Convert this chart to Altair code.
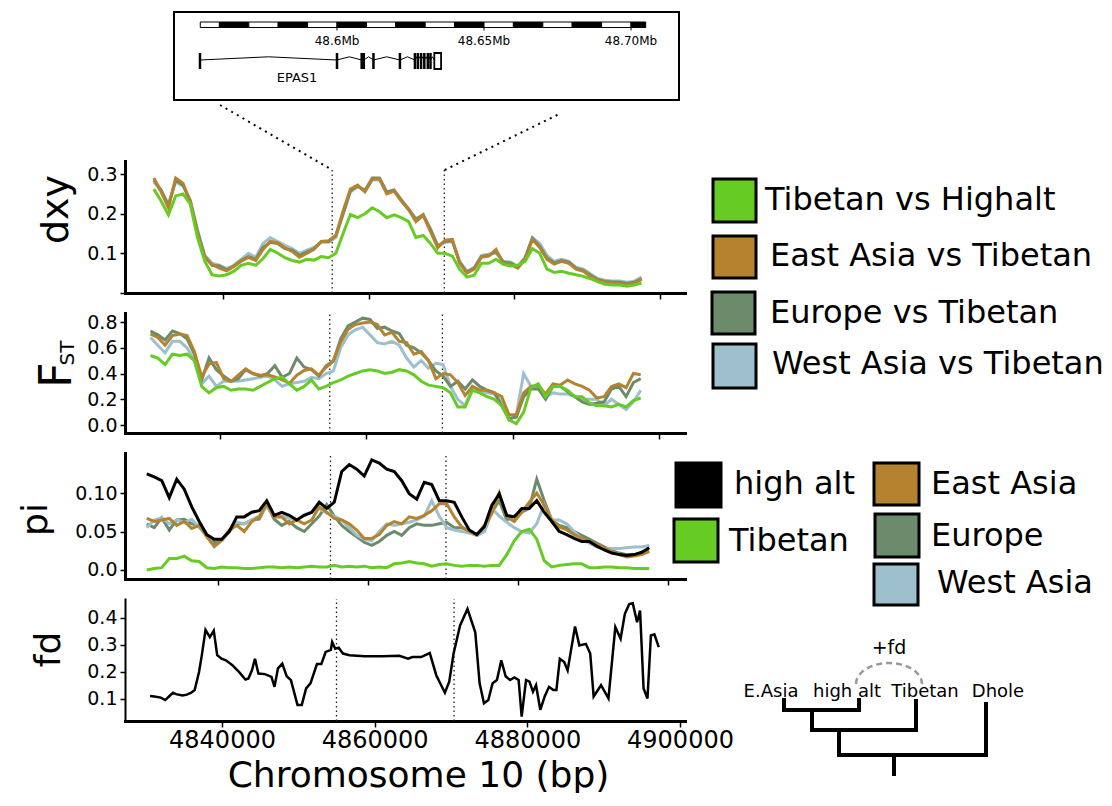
import altair as alt
import pandas as pd
import numpy as np

FONT = "DejaVu Sans"
C_TIB_HIGH = "#66cc24"
C_EASIA = "#b5832f"
C_EUROPE = "#6b8b6b"
C_WASIA = "#9dc0cc"
C_HIGH = "#000000"

# ---------------- data ----------------
# window centres (kb) used by dxy, FST and pi
win_kb = [4830.5, 4831.5, 4832.5, 4833.5, 4834.5, 4835.5, 4836.5, 4837.5, 4838.5, 4839.5,
          4840.5, 4841.5, 4842.5, 4843.5, 4844.5, 4845.5, 4846.5, 4847.5, 4848.5, 4849.5,
          4850.5, 4851.5, 4852.5, 4853.5, 4854.5, 4855.5, 4856.5, 4857.5, 4858.5, 4859.5,
          4860.5, 4861.5, 4862.5, 4863.5, 4864.5, 4865.5, 4866.5, 4867.5, 4868.5, 4869.5,
          4870.5, 4871.5, 4872.5, 4873.5, 4874.5, 4875.5, 4876.5, 4877.5, 4878.5, 4879.5,
          4880.5, 4881.5, 4882.5, 4883.5, 4884.5, 4885.5, 4886.5, 4887.5, 4888.5, 4889.5,
          4890.5, 4891.5, 4892.5, 4893.5, 4894.5, 4895.5, 4896.5, 4897.5]
win_pos = [k * 1000 for k in win_kb]

dxy_tib_high = [0.262, 0.232, 0.197, 0.245, 0.25, 0.225, 0.14, 0.08, 0.046, 0.043,
                0.046, 0.055, 0.07, 0.075, 0.07, 0.087, 0.11, 0.101, 0.089, 0.082,
                0.078, 0.085, 0.083, 0.092, 0.089, 0.1, 0.15, 0.198, 0.19, 0.2,
                0.215, 0.205, 0.19, 0.197, 0.19, 0.18, 0.14, 0.145, 0.125, 0.1,
                0.1, 0.093, 0.06, 0.04, 0.045, 0.075, 0.075, 0.085, 0.072, 0.068,
                0.07, 0.08, 0.112, 0.1, 0.06, 0.052, 0.055, 0.05, 0.046, 0.042,
                0.036, 0.028, 0.022, 0.02, 0.02, 0.017, 0.02, 0.025]
dxy_easia = [0.29, 0.255, 0.215, 0.29, 0.277, 0.23, 0.15, 0.09, 0.072, 0.063,
             0.056, 0.067, 0.08, 0.09, 0.082, 0.11, 0.13, 0.127, 0.114, 0.105,
             0.09, 0.1, 0.11, 0.13, 0.132, 0.145, 0.207, 0.262, 0.272, 0.255,
             0.287, 0.288, 0.25, 0.257, 0.232, 0.21, 0.18, 0.196, 0.155, 0.114,
             0.133, 0.135, 0.075, 0.05, 0.06, 0.09, 0.093, 0.11, 0.075, 0.072,
             0.063, 0.085, 0.135, 0.115, 0.085, 0.073, 0.08, 0.075, 0.06, 0.055,
             0.042, 0.032, 0.027, 0.025, 0.024, 0.021, 0.025, 0.034]
dxy_europe = [0.285, 0.26, 0.22, 0.285, 0.272, 0.232, 0.155, 0.092, 0.07, 0.068,
              0.058, 0.068, 0.082, 0.092, 0.085, 0.115, 0.128, 0.125, 0.112, 0.108,
              0.095, 0.103, 0.112, 0.13, 0.13, 0.145, 0.2, 0.258, 0.27, 0.258,
              0.29, 0.29, 0.255, 0.26, 0.235, 0.212, 0.185, 0.198, 0.16, 0.118,
              0.13, 0.132, 0.078, 0.052, 0.062, 0.092, 0.095, 0.105, 0.078, 0.075,
              0.065, 0.088, 0.138, 0.118, 0.088, 0.076, 0.082, 0.078, 0.062, 0.057,
              0.045, 0.034, 0.029, 0.028, 0.027, 0.024, 0.027, 0.036]
dxy_wasia = [0.28, 0.258, 0.225, 0.28, 0.27, 0.235, 0.16, 0.095, 0.075, 0.07,
             0.062, 0.07, 0.085, 0.1, 0.09, 0.125, 0.14, 0.13, 0.12, 0.112,
             0.1, 0.108, 0.115, 0.128, 0.128, 0.14, 0.2, 0.255, 0.268, 0.26,
             0.285, 0.285, 0.252, 0.258, 0.232, 0.21, 0.188, 0.195, 0.162, 0.12,
             0.128, 0.13, 0.08, 0.055, 0.065, 0.095, 0.098, 0.1, 0.08, 0.078,
             0.068, 0.09, 0.14, 0.125, 0.095, 0.08, 0.085, 0.08, 0.065, 0.06,
             0.048, 0.036, 0.032, 0.03, 0.03, 0.027, 0.03, 0.04]

fst_tib_high = [0.54, 0.52, 0.47, 0.55, 0.54, 0.55, 0.50, 0.30, 0.25, 0.29,
                0.30, 0.27, 0.28, 0.28, 0.27, 0.30, 0.33, 0.36, 0.37, 0.32,
                0.27, 0.30, 0.35, 0.28, 0.30, 0.33, 0.35, 0.38, 0.40, 0.42,
                0.43, 0.42, 0.40, 0.41, 0.43, 0.42, 0.39, 0.34, 0.31, 0.30,
                0.29, 0.25, 0.14, 0.14, 0.27, 0.25, 0.22, 0.20, 0.15, 0.04,
                0.01, 0.10, 0.29, 0.32, 0.22, 0.30, 0.30, 0.27, 0.22, 0.22,
                0.17, 0.15, 0.15, 0.14, 0.16, 0.14, 0.19, 0.21]
fst_easia = [0.707, 0.68, 0.62, 0.695, 0.707, 0.695, 0.57, 0.374, 0.473, 0.485,
             0.36, 0.337, 0.387, 0.436, 0.40, 0.387, 0.39, 0.374, 0.35, 0.325,
             0.387, 0.424, 0.436, 0.387, 0.448, 0.497, 0.645, 0.744, 0.78, 0.793,
             0.80, 0.78, 0.70, 0.72, 0.65, 0.64, 0.55, 0.57, 0.50, 0.36,
             0.40, 0.39, 0.33, 0.23, 0.30, 0.27, 0.27, 0.25, 0.22, 0.08,
             0.08, 0.25, 0.30, 0.31, 0.24, 0.32, 0.31, 0.35, 0.32, 0.30,
             0.27, 0.21, 0.22, 0.30, 0.32, 0.29, 0.40, 0.39]
fst_europe = [0.73, 0.70, 0.66, 0.73, 0.71, 0.67, 0.55, 0.35, 0.52, 0.43,
              0.38, 0.34, 0.36, 0.43, 0.40, 0.38, 0.40, 0.46, 0.37, 0.40,
              0.52, 0.45, 0.43, 0.38, 0.46, 0.50, 0.67, 0.77, 0.80, 0.83,
              0.82, 0.75, 0.76, 0.73, 0.71, 0.62, 0.60, 0.56, 0.50, 0.42,
              0.38, 0.30, 0.34, 0.28, 0.35, 0.30, 0.27, 0.25, 0.15, 0.05,
              0.06, 0.22, 0.28, 0.28, 0.20, 0.30, 0.30, 0.26, 0.22, 0.18,
              0.16, 0.17, 0.18, 0.28, 0.30, 0.22, 0.33, 0.36]
fst_wasia = [0.68, 0.62, 0.56, 0.65, 0.65, 0.60, 0.50, 0.32, 0.38, 0.30,
             0.34, 0.34, 0.34, 0.35, 0.36, 0.37, 0.38, 0.35, 0.30, 0.32,
             0.33, 0.34, 0.37, 0.36, 0.40, 0.42, 0.60, 0.70, 0.74, 0.76,
             0.70, 0.64, 0.63, 0.65, 0.62, 0.52, 0.45, 0.50, 0.44, 0.48,
             0.47, 0.30, 0.20, 0.15, 0.30, 0.27, 0.25, 0.24, 0.18, 0.04,
             0.08, 0.40, 0.30, 0.30, 0.22, 0.25, 0.24, 0.24, 0.22, 0.20,
             0.20, 0.20, 0.15, 0.20, 0.16, 0.12, 0.18, 0.27]

pi_high = [0.125, 0.121, 0.116, 0.094, 0.118, 0.105, 0.082, 0.063, 0.046, 0.040,
           0.040, 0.050, 0.069, 0.069, 0.075, 0.077, 0.090, 0.071, 0.075, 0.071,
           0.065, 0.071, 0.075, 0.088, 0.080, 0.088, 0.128, 0.137, 0.131, 0.122,
           0.143, 0.139, 0.131, 0.128, 0.116, 0.099, 0.092, 0.114, 0.111, 0.090,
           0.090, 0.088, 0.069, 0.052, 0.046, 0.056, 0.084, 0.099, 0.071, 0.069,
           0.080, 0.080, 0.090, 0.075, 0.063, 0.050, 0.046, 0.041, 0.037, 0.037,
           0.031, 0.026, 0.022, 0.020, 0.019, 0.020, 0.023, 0.029]
pi_tibetan = [0.0, 0.002, 0.003, 0.015, 0.015, 0.018, 0.012, 0.011, 0.003, 0.002,
              0.004, 0.003, 0.003, 0.002, 0.002, 0.003, 0.004, 0.004, 0.003, 0.004,
              0.003, 0.004, 0.005, 0.004, 0.004, 0.006, 0.004, 0.005, 0.004, 0.005,
              0.003, 0.004, 0.003, 0.008, 0.009, 0.011, 0.009, 0.008, 0.005, 0.007,
              0.008, 0.006, 0.005, 0.006, 0.006, 0.005, 0.006, 0.006, 0.020, 0.038,
              0.050, 0.053, 0.040, 0.012, 0.004, 0.006, 0.007, 0.008, 0.008, 0.003,
              0.003, 0.004, 0.004, 0.003, 0.003, 0.002, 0.002, 0.002]
pi_easia = [0.067, 0.063, 0.065, 0.067, 0.058, 0.063, 0.054, 0.058, 0.043, 0.031,
            0.039, 0.052, 0.058, 0.050, 0.063, 0.069, 0.086, 0.069, 0.069, 0.060,
            0.065, 0.060, 0.065, 0.082, 0.075, 0.067, 0.065, 0.060, 0.052, 0.041,
            0.041, 0.046, 0.058, 0.063, 0.060, 0.069, 0.067, 0.071, 0.077, 0.086,
            0.086, 0.069, 0.056, 0.050, 0.046, 0.058, 0.073, 0.100, 0.069, 0.063,
            0.075, 0.088, 0.100, 0.084, 0.065, 0.056, 0.052, 0.046, 0.041, 0.037,
            0.033, 0.029, 0.024, 0.020, 0.017, 0.018, 0.020, 0.024]
pi_europe = [0.060, 0.055, 0.068, 0.052, 0.065, 0.066, 0.060, 0.058, 0.045, 0.035,
             0.038, 0.050, 0.060, 0.060, 0.065, 0.066, 0.085, 0.066, 0.058, 0.063,
             0.055, 0.050, 0.060, 0.070, 0.085, 0.070, 0.058, 0.050, 0.043, 0.036,
             0.032, 0.037, 0.045, 0.050, 0.045, 0.055, 0.060, 0.058, 0.058, 0.060,
             0.062, 0.055, 0.055, 0.050, 0.045, 0.050, 0.075, 0.090, 0.065, 0.070,
             0.075, 0.080, 0.118, 0.090, 0.065, 0.058, 0.055, 0.050, 0.045, 0.040,
             0.035, 0.030, 0.025, 0.022, 0.020, 0.020, 0.022, 0.025]
pi_wasia = [0.055, 0.065, 0.068, 0.060, 0.065, 0.062, 0.066, 0.055, 0.045, 0.030,
            0.038, 0.050, 0.062, 0.060, 0.065, 0.070, 0.082, 0.070, 0.070, 0.067,
            0.065, 0.072, 0.075, 0.080, 0.074, 0.070, 0.065, 0.055, 0.045, 0.040,
            0.038, 0.050, 0.060, 0.058, 0.060, 0.062, 0.065, 0.070, 0.090, 0.070,
            0.055, 0.052, 0.050, 0.048, 0.045, 0.050, 0.080, 0.070, 0.062, 0.055,
            0.050, 0.048, 0.060, 0.085, 0.065, 0.065, 0.060, 0.050, 0.040, 0.035,
            0.030, 0.028, 0.028, 0.028, 0.029, 0.030, 0.030, 0.032]

fd_pos = [4830570, 4831140, 4831990, 4832560, 4833120, 4833580, 4833980, 4834830, 4835400, 4835970,
          4836420, 4836990, 4837390, 4837840, 4838410, 4838920, 4839370, 4839940, 4840510, 4841360,
          4842220, 4843070, 4843470, 4843920, 4844320, 4844770, 4845630, 4846480, 4846880, 4847330,
          4847900, 4848470, 4849030, 4849890, 4850450, 4851020, 4851590, 4852440, 4853010, 4853580,
          4854260, 4854430, 4854830, 4855280, 4855850, 4856700, 4858690, 4860970, 4863240, 4864380,
          4864940, 4866080, 4867220, 4868070, 4869200, 4869770, 4870340, 4871190, 4872160, 4873180,
          4873750, 4874320, 4874890, 4875450, 4876020, 4876590, 4877160, 4877730, 4878300, 4878860,
          4879260, 4879830, 4880280, 4880740, 4881140, 4881700, 4882270, 4882840, 4883410, 4883810,
          4884260, 4884830, 4885280, 4886250, 4886820, 4887670, 4888240, 4888690, 4889660, 4890630,
          4891530, 4892220, 4892780, 4893350, 4893810, 4894380, 4894770, 4895230, 4895740, 4896190,
          4896650, 4897220]
fd_vals = [0.111, 0.109, 0.105, 0.096, 0.111, 0.123, 0.118, 0.113, 0.116, 0.123,
           0.133, 0.20, 0.268, 0.356, 0.329, 0.353, 0.262, 0.249, 0.243, 0.225,
           0.20, 0.172, 0.176, 0.206, 0.249, 0.194, 0.192, 0.182, 0.145, 0.213,
           0.231, 0.184, 0.17, 0.078, 0.078, 0.139, 0.158, 0.229, 0.229, 0.274,
           0.282, 0.311, 0.286, 0.29, 0.268, 0.262, 0.258, 0.258, 0.26, 0.249,
           0.255, 0.255, 0.27, 0.188, 0.123, 0.164, 0.268, 0.372, 0.433, 0.347,
           0.158, 0.084, 0.096, 0.158, 0.17, 0.243, 0.184, 0.17, 0.18, 0.17,
           0.035, 0.17, 0.164, 0.127, 0.151, 0.06, 0.109, 0.145, 0.133, 0.133,
           0.249, 0.237, 0.206, 0.368, 0.298, 0.304, 0.268, 0.109, 0.151, 0.102,
           0.366, 0.323, 0.415, 0.451, 0.454, 0.384, 0.427, 0.139, 0.102, 0.335,
           0.339, 0.292]

X_TICKS = [4840000, 4860000, 4880000, 4900000]
GENE_BOUNDS = [4855000, 4870400]      # EPAS1 limits on chromosome 10

# gene track (Mb) of the inset
scale_breaks = [48.5535, 48.56, 48.57, 48.58, 48.59, 48.60, 48.61, 48.62, 48.63,
                48.64, 48.65, 48.66, 48.67, 48.68, 48.69, 48.70, 48.705]
scale_ticks = [48.60, 48.65, 48.70]
scale_labels = ["48.6Mb", "48.65Mb", "48.70Mb"]
exons = [48.5534, 48.6000, 48.6084, 48.6091, 48.6124, 48.6214, 48.6265,
         48.6275, 48.6286, 48.6297, 48.6309, 48.6318]
utr = [48.6331, 48.6354]

# legends and tree (layout units of the right-hand side)
leg1_labels = ["Tibetan vs Highalt", "East Asia vs Tibetan", "Europe vs Tibetan", "West Asia vs Tibetan"]
leg1_colors = [C_TIB_HIGH, C_EASIA, C_EUROPE, C_WASIA]
leg2_labels = ["high alt", "Tibetan", "East Asia", "Europe", "West Asia"]
leg2_colors = [C_HIGH, C_TIB_HIGH, C_EASIA, C_EUROPE, C_WASIA]
tree_labels = ["E.Asia", "high alt", "Tibetan", "Dhole"]

# ---------------- helpers ----------------
W = 560


def y_axis(vals, expr, title=None, tx=0, ty=0, tfs=36, dw=3):
    kw = dict(values=vals, labelExpr=expr, labelFontSize=19, labelFont=FONT,
              labelColor="black", labelPadding=3, tickSize=5, tickWidth=1.5,
              tickColor="black", domainWidth=dw, domainColor="black",
              domainCap="square", grid=False)
    if title:
        kw.update(title=title, titleFontSize=tfs, titleFont=FONT, titleFontWeight="normal",
                  titleColor="black", titleX=tx, titleY=ty, titleAngle=270,
                  titleBaseline="alphabetic", titleAlign="center")
    else:
        kw.update(title=None)
    return alt.Axis(**kw)


def x_axis(labels):
    kw = dict(values=X_TICKS, tickSize=6, tickWidth=1.5, tickColor="black",
              domainWidth=3, domainColor="black", domainCap="square", grid=False)
    if labels:
        kw.update(labels=True, format="d", labelFontSize=24, labelFont=FONT,
                  labelColor="black", labelPadding=1, labelFlush=False,
                  title="Chromosome 10 (bp)", titleFont=FONT, titleFontSize=36,
                  titleFontWeight="normal", titleColor="black", titleX=293, titleY=65,
                  titleBaseline="alphabetic", titleAlign="center")
    else:
        kw.update(labels=False, title=None)
    return alt.Axis(**kw)


def panel(series, xdom, ydom, h, yax, xax, rule_top=None, sw=3, extra=()):
    xenc = alt.X("pos:Q", scale=alt.Scale(domain=xdom, nice=False, zero=False), axis=xax)
    yenc = alt.Y("value:Q", scale=alt.Scale(domain=ydom, nice=False, zero=False), axis=yax)
    top = ydom[1] if rule_top is None else rule_top
    rules = pd.DataFrame({"pos": GENE_BOUNDS, "value": [ydom[0], ydom[0]], "value2": [top, top]})
    layers = [alt.Chart(rules).mark_rule(color="#222222", strokeWidth=1.3, strokeDash=[1.5, 3])
              .encode(x=xenc, y=yenc, y2="value2:Q")]
    for pos, vals, col in series:
        layers.append(alt.Chart(pd.DataFrame({"pos": pos, "value": vals}))
                      .mark_line(color=col, strokeWidth=sw).encode(x=xenc, y=yenc))
    layers.extend(extra)
    return alt.layer(*layers).properties(width=W, height=h)


# ---------------- panels ----------------
dxy_chart = panel(
    [(win_pos, dxy_wasia, C_WASIA), (win_pos, dxy_europe, C_EUROPE),
     (win_pos, dxy_easia, C_EASIA), (win_pos, dxy_tib_high, C_TIB_HIGH)],
    [4826540, 4903460], [0, 0.333], 132,
    y_axis([0, 0.1, 0.2, 0.3], "datum.value == 0 ? '' : format(datum.value, '.1f')",
           "dxy", -58, 48, 38),
    x_axis(False), rule_top=0.31)

fst_text = [
    alt.Chart(pd.DataFrame({"t": ["F"]})).mark_text(
        font=FONT, fontSize=44, angle=270, align="center", baseline="alphabetic",
        color="black").encode(text="t:N", x=alt.value(-54), y=alt.value(62)),
    alt.Chart(pd.DataFrame({"t": ["ST"]})).mark_text(
        font=FONT, fontSize=20, angle=270, align="center", baseline="alphabetic",
        color="black").encode(text="t:N", x=alt.value(-51), y=alt.value(40)),
]
fst_chart = panel(
    [(win_pos, fst_wasia, C_WASIA), (win_pos, fst_europe, C_EUROPE),
     (win_pos, fst_easia, C_EASIA), (win_pos, fst_tib_high, C_TIB_HIGH)],
    [4827017, 4903551], [-0.062, 0.870], 120,
    y_axis([0, 0.2, 0.4, 0.6, 0.8], "format(datum.value, '.1f')"),
    x_axis(False), extra=fst_text)

pi_chart = panel(
    [(win_pos, pi_europe, C_EUROPE), (win_pos, pi_wasia, C_WASIA),
     (win_pos, pi_easia, C_EASIA), (win_pos, pi_tibetan, C_TIB_HIGH),
     (win_pos, pi_high, C_HIGH)],
    [4827600, 4902267], [-0.0117, 0.152], 126,
    y_axis([0, 0.05, 0.1], "datum.value == 0 ? '0.0' : format(datum.value, '.2f')",
           "pi", -79, 66),
    x_axis(False))

fd_chart = panel(
    [(fd_pos, fd_vals, C_HIGH)],
    [4827292, 4900657], [0.0185, 0.470], 122,
    y_axis([0.1, 0.2, 0.3, 0.4], "format(datum.value, '.1f')", "fd", -66, 50, 36, dw=2),
    x_axis(True), sw=2.5)

# ---------------- gene inset (+ legends and tree drawn beside the panels) ----------------
TOP_H = 132
gx = alt.X("x:Q", scale=alt.Scale(domain=[48.527891, 48.718367], nice=False, zero=False), axis=None)
gx2 = alt.X2("x2:Q")
gy = alt.Y("y:Q", scale=alt.Scale(domain=[0, TOP_H], nice=False, zero=False, reverse=True), axis=None)
gy2 = alt.Y2("y2:Q")

anchor = alt.Chart(pd.DataFrame({"a": [0]})).mark_rule(color="white", strokeWidth=1).encode(
    x=alt.value(-116), y=alt.value(0), y2=alt.value(3))
box = alt.Chart(pd.DataFrame({"x": [48.544558], "x2": [48.716327], "y": [3], "y2": [91]})).mark_rect(
    fill="white", stroke="black", strokeWidth=2).encode(x=gx, x2=gx2, y=gy, y2=gy2)
seg = pd.DataFrame({"x": scale_breaks[:-1], "x2": scale_breaks[1:],
                    "c": ["white" if i % 2 == 0 else "black" for i in range(len(scale_breaks) - 1)]})
seg["y"], seg["y2"] = 13, 18.5
bar = alt.Chart(seg).mark_rect(stroke="black", strokeWidth=1).encode(
    x=gx, x2=gx2, y=gy, y2=gy2, fill=alt.Fill("c:N", scale=None))
tk = pd.DataFrame({"x": scale_ticks, "y": 18.5, "y2": 21.5, "t": scale_labels})
ticks = alt.Chart(tk).mark_rule(color="black", strokeWidth=1).encode(x=gx, y=gy, y2=gy2)
tick_lab = alt.Chart(tk).mark_text(font=FONT, fontSize=12, baseline="middle", color="black",
                                   dy=13).encode(x=gx, y=gy, text="t:N")
intr_rows = []
ends = exons + [utr[0]]
for i in range(len(ends) - 1):
    a, b = ends[i], ends[i + 1]
    intr_rows += [{"id": i, "x": a, "y": 51}, {"id": i, "x": (a + b) / 2, "y": 47.8},
                  {"id": i, "x": b, "y": 51}]
introns = alt.Chart(pd.DataFrame(intr_rows)).mark_line(color="black", strokeWidth=1).encode(
    x=gx, y=gy, detail="id:N")
ex = pd.DataFrame({"x": exons, "y": 44, "y2": 60})
exon_marks = alt.Chart(ex).mark_rule(color="black", strokeWidth=2.5).encode(x=gx, y=gy, y2=gy2)
utr_box = alt.Chart(pd.DataFrame({"x": [utr[0]], "x2": [utr[1]], "y": [44], "y2": [60]})).mark_rect(
    fill="white", stroke="black", strokeWidth=1.8).encode(x=gx, x2=gx2, y=gy, y2=gy2)
gene_lab = alt.Chart(pd.DataFrame({"x": [48.5864], "y": [69], "t": ["EPAS1"]})).mark_text(
    font=FONT, fontSize=13, baseline="middle", color="black").encode(x=gx, y=gy, text="t:N")
conn = pd.DataFrame({"x": [48.560204, 48.636633], "y": [96, 161],
                     "x2": [48.598469, 48.675600], "y2": [161, 105]})
connectors = alt.Chart(conn).mark_rule(color="black", strokeWidth=2, strokeDash=[2, 4.5]).encode(
    x=gx, x2=gx2, y=gy, y2=gy2)

# right-hand side: layout units measured from the right end of the panels
rx = alt.X("x:Q", scale=alt.Scale(domain=[-W, 0], nice=False, zero=False), axis=None)
rx2 = alt.X2("x2:Q")
ry = alt.Y("y:Q", scale=alt.Scale(domain=[0, TOP_H], nice=False, zero=False, reverse=True), axis=None)
ry2 = alt.Y2("y2:Q")

leg1_box = pd.DataFrame({"x": [28, 28, 27, 28], "x2": [71, 71, 70, 71],
                         "y": [170, 227, 283, 335], "y2": [213, 269, 325, 379], "c": leg1_colors})
leg1_txt = pd.DataFrame({"x": [80, 85, 85, 87], "y": [191, 247, 304, 355], "t": leg1_labels})
leg2_box = pd.DataFrame({"x": [-9, -11, 189, 190, 189], "x2": [36, 33, 234, 234, 233],
                         "y": [454, 510, 454, 505, 555], "y2": [498, 553, 496, 548, 596],
                         "c": leg2_colors})
leg2_txt = pd.DataFrame({"x": [49, 44, 246, 246, 252], "y": [475, 532, 475, 527, 574], "t": leg2_labels})

boxes = alt.Chart(pd.concat([leg1_box, leg2_box])).mark_rect(stroke="black", strokeWidth=3).encode(
    x=rx, x2=rx2, y=ry, y2=ry2, fill=alt.Fill("c:N", scale=None))
texts = alt.Chart(pd.concat([leg1_txt, leg2_txt])).mark_text(
    font=FONT, fontSize=32, align="left", baseline="middle", color="black").encode(
    x=rx, y=ry, text="t:N")
tree_seg = pd.DataFrame({
    "x":  [99, 174, 99, 127, 231, 127, 154, 301, 154, 209],
    "y":  [691, 691, 701, 701, 692, 721, 721, 695, 746, 746],
    "x2": [99, 174, 174, 127, 231, 231, 154, 301, 301, 209],
    "y2": [701, 701, 701, 721, 721, 721, 746, 746, 746, 765]})
tree = alt.Chart(tree_seg).mark_rule(color="black", strokeWidth=4, strokeCap="square").encode(
    x=rx, x2=rx2, y=ry, y2=ry2)
tree_lab = pd.DataFrame({"x": [86, 162, 240, 313], "y": [683, 683, 683, 683], "t": tree_labels})
tree_txt = alt.Chart(tree_lab).mark_text(font=FONT, fontSize=18, baseline="middle",
                                         color="black").encode(x=rx, y=ry, text="t:N")
fd_lab = alt.Chart(pd.DataFrame({"x": [204], "y": [639], "t": ["+fd"]})).mark_text(
    font=FONT, fontSize=19, baseline="middle", color="black").encode(x=rx, y=ry, text="t:N")
theta = np.linspace(np.pi, 0, 25)
arc = pd.DataFrame({"x": 204 + 33 * np.cos(theta), "y": 675 - 21 * np.sin(theta), "i": range(25)})
arc_mark = alt.Chart(arc).mark_line(color="#999999", strokeWidth=2.5, strokeDash=[6, 4]).encode(
    x=rx, y=ry, order="i:Q")

gene_layer = alt.layer(anchor, box, bar, ticks, tick_lab, introns, exon_marks, utr_box,
                       gene_lab, connectors)
side_layer = alt.layer(boxes, texts, tree, tree_txt, fd_lab, arc_mark)
top_chart = alt.layer(gene_layer, side_layer).resolve_scale(
    x="independent", y="independent").properties(width=W, height=TOP_H)

# ---------------- assemble ----------------
chart = alt.vconcat(top_chart, dxy_chart, fst_chart, pi_chart, fd_chart,
                    spacing=20, bounds="flush").properties(padding=0, background="white")
chart = chart.configure(font=FONT).configure_view(stroke=None)

chart.save("out.html", embed_options={"renderer": "svg", "actions": False})
